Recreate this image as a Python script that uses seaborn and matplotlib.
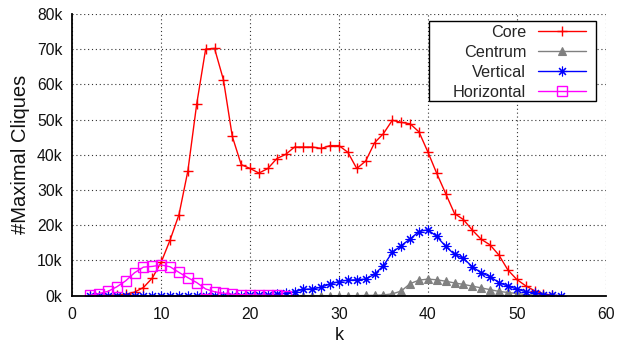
import matplotlib
matplotlib.use("Agg")
import matplotlib.pyplot as plt
from matplotlib.patches import Rectangle
from matplotlib.ticker import FuncFormatter
import pandas as pd
import seaborn as sns

# Number of maximal cliques (in thousands) per k for each decomposition
core_k = list(range(2, 55))
core = [0, 0, 0.05, 0.15, 0.4, 1.0, 2.3, 5.0, 9.5, 15.8, 23.0, 35.4, 54.5, 70.0,
        70.2, 61.3, 45.2, 37.2, 36.1, 34.8, 36.1, 38.9, 40.1, 42.2, 42.2, 42.2,
        41.8, 42.6, 42.6, 40.7, 36.1, 38.2, 43.4, 46.0, 49.8, 49.2, 48.8, 46.5,
        40.8, 34.7, 29.0, 23.3, 21.6, 18.6, 16.0, 14.4, 11.5, 7.3, 4.6, 2.8,
        1.4, 0.5, 0.1]

centrum_k = list(range(24, 55))
centrum = [0, 0, 0, 0, 0, 0, 0, 0, 0, 0.05, 0.1, 0.2, 0.5, 1.3, 3.4, 4.4, 4.7,
           4.5, 4.1, 3.6, 3.2, 2.7, 2.2, 1.7, 1.2, 0.9, 0.6, 0.3, 0.15, 0.05, 0]

vertical_k = list(range(2, 56))
vertical = [0, 0, 0, 0, 0, 0, 0, 0, 0, 0, 0, 0, 0, 0, 0, 0, 0, 0, 0.05, 0.1,
            0.2, 0.4, 0.7, 1.1, 1.8, 1.9, 2.4, 3.3, 4.0, 4.4, 4.5, 4.7, 6.1,
            8.5, 12.3, 14.2, 16.1, 18.2, 18.7, 16.8, 14.0, 11.7, 10.6, 8.2, 6.5,
            5.4, 3.7, 2.7, 1.9, 1.1, 0.8, 0.3, 0.1, 0]

horizontal_k = list(range(2, 25))
horizontal = [0.1, 0.6, 1.2, 2.5, 4.2, 6.5, 8.1, 8.3, 8.7, 8.2, 6.6, 5.1, 3.7,
              1.9, 1.1, 0.7, 0.4, 0.3, 0.2, 0.15, 0.1, 0.05, 0]

series_names = ["Core", "Centrum", "Vertical", "Horizontal"]
x_ticks = [0, 10, 20, 30, 40, 50, 60]
y_ticks = [0, 10, 20, 30, 40, 50, 60, 70, 80]

sns.set_theme(style="white")
plt.rcParams["font.family"] = ["Liberation Sans", "DejaVu Sans"]

fig = plt.figure(figsize=(6.18, 3.47), dpi=100)
ax = fig.add_axes([0.117, 0.148, 0.863, 0.812])

styles = {
    "Core": dict(color="#ff0000", marker="+", markersize=7.5, mfc="none", mew=1.0),
    "Centrum": dict(color="#808080", marker="^", markersize=5.5, mfc="#808080", mew=0.8),
    "Vertical": dict(color="#0000ff", marker=(8, 2, 0), markersize=7.0, mfc="none", mew=0.8),
    "Horizontal": dict(color="#ff00ff", marker="s", markersize=7, mfc="none", mew=1.0),
}
data = {
    "Core": (core_k, core),
    "Centrum": (centrum_k, centrum),
    "Vertical": (vertical_k, vertical),
    "Horizontal": (horizontal_k, horizontal),
}

for name in series_names:
    ks, vals = data[name]
    df = pd.DataFrame({"k": ks, "cliques": vals})
    st = styles[name]
    sns.lineplot(data=df, x="k", y="cliques", ax=ax, label=name,
                 color=st["color"], marker=st["marker"],
                 markersize=st["markersize"], mec=st["color"], mfc=st["mfc"],
                 mew=st["mew"], linewidth=1.0, errorbar=None, sort=False)

ax.set_xlim(0, 60)
ax.set_ylim(0, 80)
ax.set_xticks(x_ticks)
ax.set_yticks(y_ticks)
ax.yaxis.set_major_formatter(FuncFormatter(lambda v, p: f"{v:.0f}k"))

ax.grid(True, color="#333333", linestyle=(0, (1, 2.5)), linewidth=0.8)
for side in ["top", "right"]:
    ax.spines[side].set_visible(False)
for side in ["left", "bottom"]:
    ax.spines[side].set_color("black")
    ax.spines[side].set_linewidth(1.3)
ax.tick_params(axis="both", direction="in", length=4, width=1.0,
               color="black", labelsize=11.3, labelcolor="#111111")
ax.tick_params(axis="x", pad=8)
ax.tick_params(axis="y", pad=7)

ax.set_xlabel("k", fontsize=13, color="#111111", labelpad=4)
ax.set_ylabel("#Maximal Cliques", fontsize=14.5, color="#111111", labelpad=5)

leg = ax.legend(loc="upper right", bbox_to_anchor=(0.9625, 0.962),
                frameon=False, markerfirst=False, fontsize=11.7,
                handlelength=2.95, handletextpad=0.7, labelspacing=0.31,
                borderpad=0, borderaxespad=0)
ax.add_patch(Rectangle((0.669, 0.692), 0.313, 0.284, transform=ax.transAxes,
                       fill=True, facecolor="white", edgecolor="black",
                       linewidth=1.0, zorder=4))
leg.set_zorder(5)

fig.savefig("out.png", dpi=100)
